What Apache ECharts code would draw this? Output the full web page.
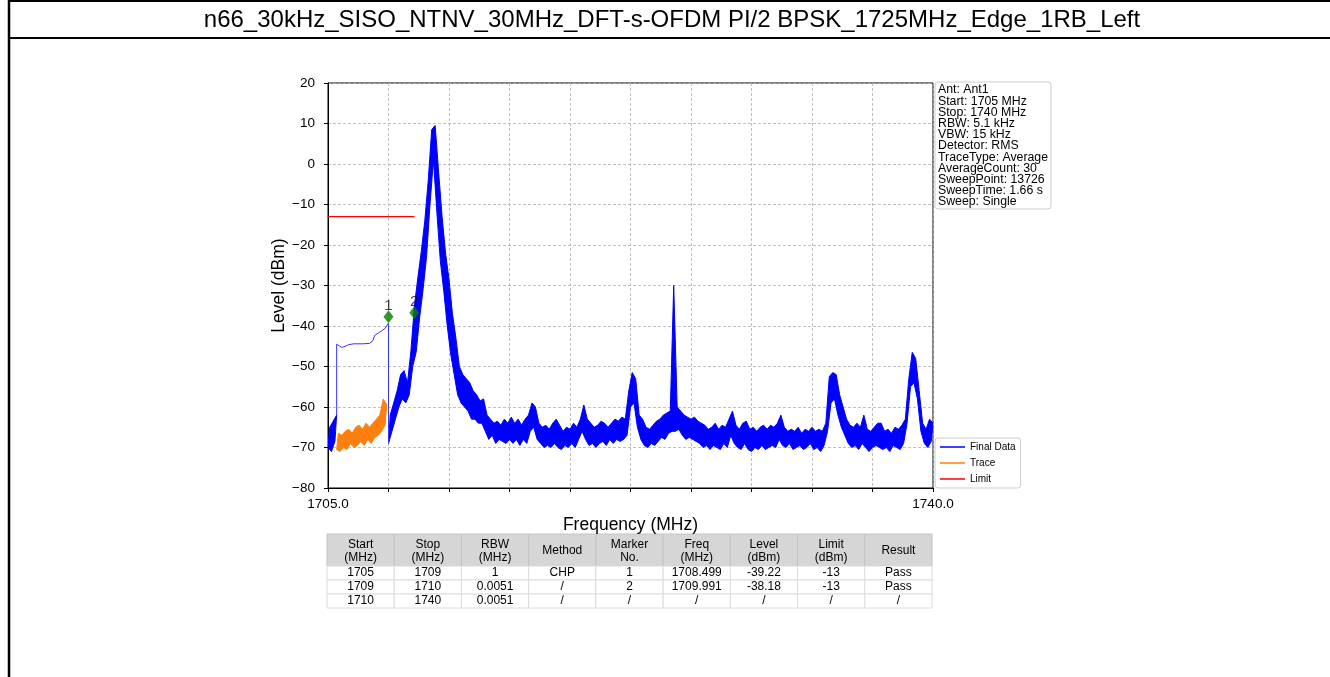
<!DOCTYPE html>
<html>
<head>
<meta charset="utf-8">
<title>n66 spurious emission</title>
<script src="https://cdn.jsdelivr.net/npm/echarts/dist/echarts.min.js"></script>
<style>
  html, body { margin: 0; padding: 0; background: #fff; }
  #chart { width: 1330px; height: 677px; }
</style>
</head>
<body>
<div id="chart"></div>
<script>
const chartTitle = 'n66_30kHz_SISO_NTNV_30MHz_DFT-s-OFDM PI/2 BPSK_1725MHz_Edge_1RB_Left'
const xTickLabels = { 1705: '1705.0', 1740: '1740.0' }

// blue trace left of the CHP window, 1705.0 .. 1705.5 (lows at 0.2 steps, highs half a step later)
const edgeLow = [-70, -71, -68.5]
const edgeHigh = [-65, -63.5, -62]

// channel power result 1705.5 .. 1708.5 (thin line)
const chpFreq = [1705.5, 1705.5, 1705.6, 1705.8, 1706.0, 1706.2, 1706.5, 1707.0, 1707.4, 1707.6, 1707.7, 1708.0, 1708.3, 1708.5, 1708.5]
const chpLevel = [-62, -44.5, -44.8, -45.3, -45.0, -44.6, -44.4, -44.4, -44.3, -43.6, -42.3, -41.5, -40.6, -39.3, -69]

// raw trace inside the CHP window, from 1705.5
const traceLow = [-70.5, -71, -70, -70.5, -69, -70, -69.5, -68.5, -69.5, -68, -69, -67.5, -67, -66, -64.5]
const traceHigh = [-66.5, -67, -66, -65.5, -66.5, -65, -64.5, -65.5, -64, -65, -64, -63, -62, -58, -59.5]

// final data from 1708.5 to 1740.0, lows at 1708.5 + 0.2*i, highs at 1708.6 + 0.2*i
const bandLow = [
  -69, -66, -63, -60, -58, -59, -57, -50, -46.5, -38,
  -31, -23, -10, 1, -12, -24, -31.5, -40, -47, -52,
  -57, -59, -60, -61, -63, -63, -64, -64, -66, -68,
  -67, -69, -68, -68.5, -69, -68, -69, -68, -69.5, -68,
  -69, -66, -65, -68, -69, -70, -69.5, -70, -69, -70,
  -70.5, -69.5, -70, -69, -70, -68, -66, -68, -69.5, -69,
  -70, -69, -68.5, -69.5, -68, -69, -68, -68.5, -68, -67,
  -60, -59, -65, -68, -69.5, -70, -69, -69.5, -68.5, -67.5,
  -68, -66.5, -66, -66, -65.5, -67, -68, -67.5, -68, -68.5,
  -69, -70, -69.5, -70.5, -69.5, -70, -70.5, -69, -70, -67,
  -69, -70, -70.5, -69, -70.5, -71, -70, -70.5, -69.5, -70.5,
  -70, -69.5, -70, -68, -69.5, -70, -69, -70.5, -70, -69.5,
  -70.5, -70, -69, -70.5, -70, -71, -69.5, -66, -59, -58,
  -62, -65, -67, -69, -70, -69.5, -70.5, -69, -70, -71,
  -70, -69.5, -70, -70.5, -70, -71, -69.5, -70, -70.5, -69,
  -64, -55, -54, -58, -66, -69, -70, -68.5
]
const bandHigh = [
  -62, -59, -56, -52, -51, -54, -46, -35, -28, -21.5,
  -14, -4, 8.5, 9.5, -2, -13, -22, -28.5, -37, -43,
  -50, -52, -53, -54, -56, -57, -58.5, -58, -62, -63,
  -64, -63.5, -64.5, -63, -64, -62.5, -64, -63, -64.5, -63,
  -62, -59, -60, -64, -65, -64.5, -65.5, -64, -63, -64.5,
  -66, -65, -65.5, -64, -65, -63, -59.5, -63, -64, -65,
  -64.5, -63.5, -64, -65, -64, -63, -63.5, -62.5, -63, -56,
  -51.5, -53, -62, -63, -65, -65.5, -64.5, -63.5, -63, -62,
  -61.5, -61, -30, -60, -61, -62, -62.5, -63, -62.5, -63.5,
  -64, -64.5, -65.5, -65, -64, -65.5, -64.5, -65, -63, -61,
  -64.5, -65.5, -64, -63.5, -65.5, -65, -66, -65, -64.5, -65.5,
  -64.5, -65, -64, -62, -65, -66, -65.5, -66, -65, -66.5,
  -65.5, -66, -65, -66, -65.5, -66, -64, -52.5, -51.5, -52,
  -57, -60, -63, -64.5, -65, -64, -65, -62, -65.5, -66,
  -65, -64, -64, -66, -65.5, -66.5, -65, -65.5, -64.5, -63,
  -53, -46.5, -48, -56, -64, -65.5, -63, -64
]

const limitFreq = [1705, 1710]
const limitLevel = [-13, -13]

const markerNo = ['1', '2']
const markerFreq = [1708.499, 1709.991]
const markerLevel = [-39.22, -38.18]

const infoLines = [
  'Ant: Ant1', 'Start: 1705 MHz', 'Stop: 1740 MHz', 'RBW: 5.1 kHz', 'VBW: 15 kHz',
  'Detector: RMS', 'TraceType: Average', 'AverageCount: 30', 'SweepPoint: 13726',
  'SweepTime: 1.66 s', 'Sweep: Single'
]

const tableHeader = ['Start\n(MHz)', 'Stop\n(MHz)', 'RBW\n(MHz)', 'Method', 'Marker\nNo.', 'Freq\n(MHz)', 'Level\n(dBm)', 'Limit\n(dBm)', 'Result']
const tableRows = [
  ['1705', '1709', '1', 'CHP', '1', '1708.499', '-39.22', '-13', 'Pass'],
  ['1709', '1710', '0.0051', '/', '2', '1709.991', '-38.18', '-13', 'Pass'],
  ['1710', '1740', '0.0051', '/', '/', '/', '/', '/', '/']
]

const FONT = '"Liberation Sans", Arial, Helvetica, sans-serif'
const BLUE = '#0000ff'
const ORANGE = '#ff7f0e'

// solid noise band: polygon between the low readings and the high readings
function bandSeries (name, start, step, lows, highs, color) {
  const lowPts = lows.map((v, i) => [start + i * step, v])
  const highPts = highs.map((v, i) => [start + i * step + step / 2, v])
  const outline = lowPts.concat(highPts.reverse())
  return {
    type: 'custom',
    name,
    silent: true,
    clip: true,
    data: [[start, lows[0]]],
    renderItem: (params, api) => ({
      type: 'polygon',
      shape: { points: outline.map((p) => api.coord(p)) },
      style: { fill: color, stroke: color, lineWidth: 1, lineJoin: 'round' }
    })
  }
}

function textEl (text, x, y, size, opts) {
  return {
    type: 'text',
    silent: true,
    style: Object.assign({
      text,
      x,
      y,
      font: size + 'px ' + FONT,
      fill: '#000',
      textAlign: 'center',
      textVerticalAlign: 'middle',
      align: 'center',
      verticalAlign: 'middle'
    }, opts || {})
  }
}

function buildTable () {
  const left = 327
  const top = 534
  const colWidth = 605 / 9
  const headHeight = 32
  const rowHeight = 14
  const els = []
  tableHeader.forEach((head, c) => {
    const x = left + c * colWidth
    els.push({
      type: 'rect',
      silent: true,
      shape: { x, y: top, width: colWidth, height: headHeight },
      style: { fill: '#d6d6d6', stroke: '#c4c4c4', lineWidth: 1 }
    })
    els.push(textEl(head, x + colWidth / 2, top + headHeight / 2 + 1, 12, { lineHeight: 13 }))
  })
  tableRows.forEach((row, r) => {
    const y = top + headHeight + r * rowHeight
    row.forEach((cell, c) => {
      const x = left + c * colWidth
      els.push({
        type: 'rect',
        silent: true,
        shape: { x, y, width: colWidth, height: rowHeight },
        style: { fill: '#fff', stroke: '#dcdcdc', lineWidth: 1 }
      })
      els.push(textEl(cell, x + colWidth / 2, y + rowHeight / 2, 12))
    })
  })
  return els
}

const chart = echarts.init(document.getElementById('chart'), null, { renderer: 'canvas' })

const lineBase = { type: 'line', symbol: 'none', silent: true, animation: false }

chart.setOption({
  animation: false,
  backgroundColor: '#fff',
  textStyle: { fontFamily: FONT },
  grid: {
    left: 328,
    top: 83,
    width: 605,
    height: 405,
    show: true,
    borderColor: '#000',
    borderWidth: 1,
    backgroundColor: '#fff'
  },
  legend: {
    data: ['Final Data', 'Trace', 'Limit'],
    orient: 'vertical',
    left: 935,
    top: 438,
    icon: 'rect',
    itemWidth: 25,
    itemHeight: 1.5,
    itemGap: 6,
    padding: [4, 5, 4, 5],
    borderColor: '#cccccc',
    borderWidth: 1,
    borderRadius: 3,
    backgroundColor: '#fff',
    selectedMode: false,
    textStyle: { fontSize: 10, color: '#000', fontFamily: FONT }
  },
  xAxis: {
    type: 'value',
    min: 1705,
    max: 1740,
    interval: 3.5,
    name: 'Frequency (MHz)',
    nameLocation: 'middle',
    nameGap: 28,
    nameTextStyle: { fontSize: 17.5, color: '#000' },
    axisLine: { show: true, onZero: false, lineStyle: { color: '#000', width: 1 } },
    axisTick: { show: true, length: 4, lineStyle: { color: '#000' } },
    axisLabel: {
      fontSize: 13.5,
      color: '#000',
      margin: 9,
      showMinLabel: true,
      showMaxLabel: true,
      formatter: (v) => xTickLabels[Math.round(v * 10) / 10] || ''
    },
    splitLine: { show: true, lineStyle: { color: '#b0b0b0', type: [3, 2], width: 0.8 } }
  },
  yAxis: {
    type: 'value',
    min: -80,
    max: 20,
    interval: 10,
    name: 'Level (dBm)',
    nameLocation: 'middle',
    nameGap: 36,
    nameTextStyle: { fontSize: 17.5, color: '#000' },
    axisLine: { show: true, onZero: false, lineStyle: { color: '#000', width: 1 } },
    axisTick: { show: true, length: 4, lineStyle: { color: '#000' } },
    axisLabel: {
      fontSize: 13.5,
      color: '#000',
      margin: 13,
      formatter: (v) => (v < 0 ? '\u2212' + Math.abs(v) : String(v))
    },
    splitLine: { show: true, lineStyle: { color: '#b0b0b0', type: [3, 2], width: 0.8 } }
  },
  series: [
    Object.assign({}, lineBase, {
      name: 'Final Data',
      data: chpFreq.map((f, i) => [f, chpLevel[i]]),
      lineStyle: { color: '#3535ff', width: 1 },
      itemStyle: { color: BLUE }
    }),
    bandSeries('Final Data', 1705.0, 0.2, edgeLow, edgeHigh, BLUE),
    bandSeries('Final Data', 1708.5, 0.2, bandLow, bandHigh, BLUE),
    Object.assign({}, lineBase, {
      name: 'Trace',
      data: [],
      lineStyle: { color: ORANGE, width: 1.4 },
      itemStyle: { color: ORANGE }
    }),
    bandSeries('Trace', 1705.5, 0.2, traceLow, traceHigh, ORANGE),
    Object.assign({}, lineBase, {
      name: 'Limit',
      data: limitFreq.map((f, i) => [f, limitLevel[i]]),
      lineStyle: { color: '#ff0000', width: 1.3 },
      itemStyle: { color: '#ff0000' }
    }),
    {
      type: 'scatter',
      name: 'Markers',
      silent: true,
      symbol: 'diamond',
      symbolSize: [10, 13],
      symbolOffset: [0, -6],
      itemStyle: { color: '#008000' },
      label: {
        show: true,
        position: 'top',
        distance: -3,
        fontSize: 15,
        color: '#111',
        formatter: (p) => p.name
      },
      data: markerFreq.map((f, i) => ({ name: markerNo[i], value: [f, markerLevel[i]] })),
      z: 5
    }
  ],
  graphic: {
    elements: [
      { type: 'line', silent: true, shape: { x1: 9, y1: 1, x2: 1330, y2: 1 }, style: { stroke: '#000', lineWidth: 2 } },
      { type: 'line', silent: true, shape: { x1: 9, y1: 38, x2: 1330, y2: 38 }, style: { stroke: '#000', lineWidth: 2 } },
      { type: 'line', silent: true, shape: { x1: 9, y1: 0, x2: 9, y2: 677 }, style: { stroke: '#000', lineWidth: 2.5 } },
      textEl(chartTitle, 672, 20, 24),
      {
        type: 'rect',
        silent: true,
        shape: { x: 935, y: 82, width: 116, height: 127, r: 3 },
        style: { fill: '#fff', stroke: '#cccccc', lineWidth: 1 }
      },
      textEl(infoLines.join('\n'), 938, 84.5, 12.3, {
        textAlign: 'left',
        align: 'left',
        textVerticalAlign: 'top',
        verticalAlign: 'top',
        lineHeight: 11.2
      })
    ].concat(buildTable())
  }
})
</script>
</body>
</html>
